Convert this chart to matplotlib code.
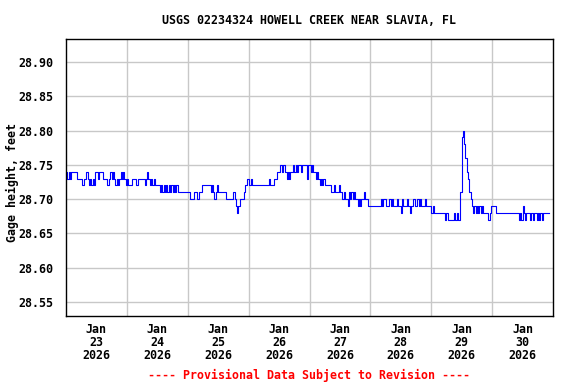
import numpy as np
import pandas as pd
import matplotlib
matplotlib.use("Agg")
import matplotlib.pyplot as plt

# gage height, half-hourly readings, in hundredths of a foot above 28 ft
jan23 = [74, 73, 74, 73, 74, 74, 74, 74, 74, 73, 73, 73, 73, 72, 73, 73,
         74, 73, 72, 73, 72, 73, 72, 74, 74, 73, 74, 74, 74, 73, 73, 73,
         72, 72, 73, 74, 73, 74, 73, 72, 73, 72, 73, 74, 73, 74, 73, 72]
jan24 = [73, 72, 72, 72, 73, 73, 73, 72, 72, 73, 73, 73, 73, 73, 72, 73,
         74, 73, 72, 73, 72, 73, 72, 72, 72, 72, 71, 72, 71, 72, 71, 72,
         71, 72, 71, 72, 71, 72, 71, 72, 71, 71, 71, 71, 71, 71, 71, 71]
jan25 = [71, 71, 70, 70, 70, 71, 71, 70, 70, 71, 71, 72, 72, 72, 72, 72,
         72, 72, 71, 72, 71, 70, 71, 72, 71, 71, 71, 71, 71, 71, 70, 70,
         70, 70, 70, 70, 71, 70, 69, 68, 69, 70, 70, 70, 71, 72, 72, 73]
jan26 = [72, 72, 73, 72, 72, 72, 72, 72, 72, 72, 72, 72, 72, 72, 72, 72,
         73, 72, 72, 72, 73, 73, 74, 74, 74, 75, 74, 75, 75, 74, 73, 74,
         73, 74, 74, 75, 74, 75, 74, 75, 75, 74, 75, 75, 75, 75, 73, 75]
jan27 = [75, 74, 75, 74, 74, 73, 74, 73, 72, 73, 72, 73, 72, 72, 72, 72,
         72, 71, 71, 72, 71, 71, 71, 72, 71, 71, 70, 71, 70, 70, 69, 71,
         70, 71, 70, 71, 70, 70, 69, 70, 69, 70, 70, 71, 70, 70, 69, 69]
jan28 = [69, 69, 69, 69, 69, 69, 69, 69, 70, 69, 70, 70, 69, 69, 69, 70,
         69, 70, 69, 69, 69, 70, 69, 69, 68, 70, 69, 69, 69, 70, 69, 68,
         69, 69, 70, 69, 69, 70, 69, 70, 69, 69, 69, 70, 69, 69, 69, 69]
jan29 = [68, 69, 68, 68, 68, 68, 68, 68, 68, 68, 68, 67, 68, 67, 67, 67,
         67, 67, 68, 67, 68, 67, 67, 71, 79, 80, 78, 76, 74, 73, 71, 70,
         69, 68, 69, 68, 69, 68, 69, 68, 69, 68, 68, 68, 68, 67, 68, 69]
jan30 = [69, 69, 69, 68, 68, 68, 68, 68, 68, 68, 68, 68, 68, 68, 68, 68,
         68, 68, 68, 68, 68, 67, 68, 67, 69, 68, 67, 68, 68, 68, 67, 68,
         67, 68, 68, 67, 68, 67, 68, 67, 68, 68, 68, 68, 68, 68]

days = [jan23, jan24, jan25, jan26, jan27, jan28, jan29, jan30]
day_labels = ["Jan\n23\n2026", "Jan\n24\n2026", "Jan\n25\n2026", "Jan\n26\n2026",
              "Jan\n27\n2026", "Jan\n28\n2026", "Jan\n29\n2026", "Jan\n30\n2026"]
y_ticks = [28.55, 28.60, 28.65, 28.70, 28.75, 28.80, 28.85, 28.90]

vals = 28.0 + np.concatenate(days) / 100.0
times = pd.date_range("2026-01-23 00:00", periods=len(vals), freq="30min")

font = "DejaVu Sans Mono"
fsize = 8.4

fig = plt.figure(figsize=(5.76, 3.84), dpi=100)
ax = fig.add_axes([66 / 576, 1 - 316 / 384, (553 - 66) / 576, (316 - 39) / 384])

ax.plot(times, vals, color="#0000ff", linewidth=0.8, drawstyle="steps-post")

ax.set_xlim(pd.Timestamp("2026-01-23"), pd.Timestamp("2026-01-31"))
ax.set_ylim(28.5295, 28.9336)

# grid at midnight, labels at noon
midnights = pd.date_range("2026-01-24", periods=7, freq="D")
noons = pd.date_range("2026-01-23 12:00", periods=8, freq="D")
for m in midnights:
    ax.axvline(m, color="#c8c8c8", linewidth=1.0, zorder=0)
for yv in y_ticks:
    ax.axhline(yv, color="#c8c8c8", linewidth=1.0, zorder=0)

ax.set_xticks(noons)
ax.set_xticklabels(day_labels, fontfamily=font, fontweight="bold", fontsize=fsize,
                   linespacing=0.98)
ax.set_yticks(y_ticks)
ax.set_yticklabels(["%.2f" % v for v in y_ticks], fontfamily=font,
                   fontweight="bold", fontsize=fsize)
ax.tick_params(axis="both", length=0)
ax.tick_params(axis="x", pad=5)
ax.tick_params(axis="y", pad=9)

for s in ax.spines.values():
    s.set_color("black")
    s.set_linewidth(1.0)

fig.text(12 / 576, 1 - 183 / 384, "Gage height, feet", rotation=90,
         ha="center", va="center", fontfamily=font, fontweight="bold", fontsize=fsize)

fig.text(309 / 576, 1 - 20 / 384, "USGS 02234324 HOWELL CREEK NEAR SLAVIA, FL",
         ha="center", va="center", fontfamily=font, fontweight="bold", fontsize=fsize)
fig.text(309 / 576, 1 - 375 / 384, "---- Provisional Data Subject to Revision ----",
         ha="center", va="center", fontfamily=font, fontweight="bold",
         fontsize=fsize, color="red")

fig.savefig("out.png", dpi=100)
